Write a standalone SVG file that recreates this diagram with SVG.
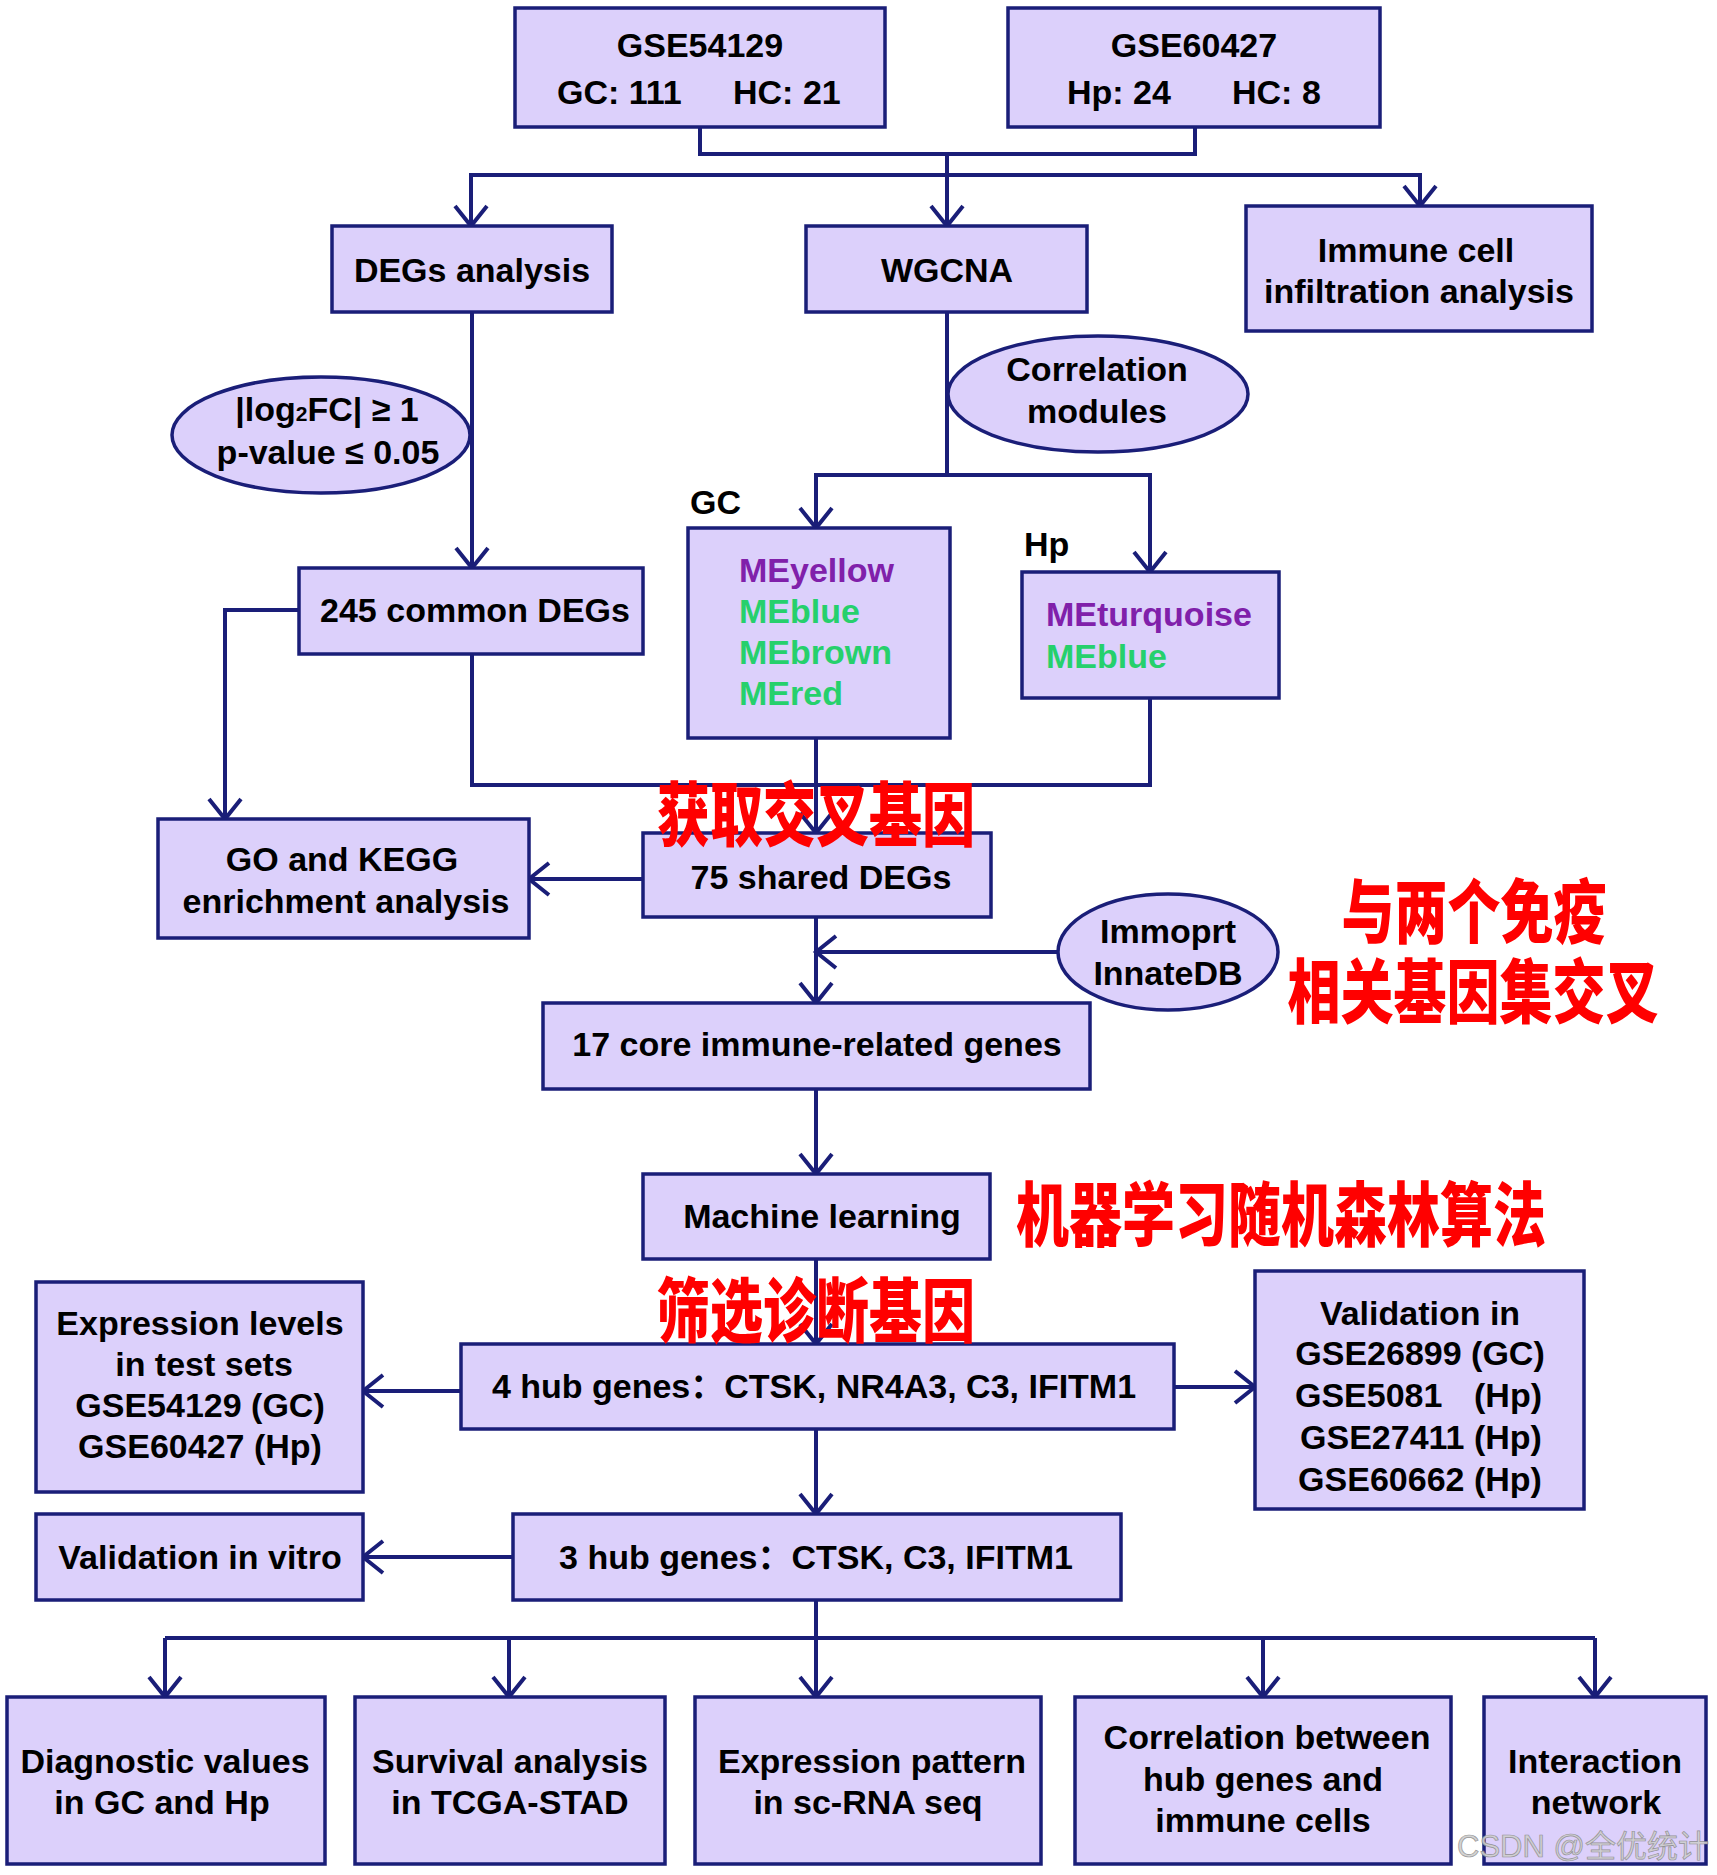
<svg xmlns="http://www.w3.org/2000/svg" width="1717" height="1875" viewBox="0 0 1717 1875">
  <defs>
    <style>
      .box { fill: #dcd0fb; stroke: #1a1e78; stroke-width: 3.5; }
      .oval { fill: #dcd0fb; stroke: #1a1e78; stroke-width: 3.5; }
      .wire { fill: none; stroke: #1a1e78; stroke-width: 4; stroke-linejoin: miter; }
      .arr { marker-end: url(#head); }
      .t { font-family: "Liberation Sans", Arial, sans-serif; font-weight: bold; font-size: 34px; text-anchor: middle; fill: #000; }
      .ts { text-anchor: start; }
      .cjk { font-family: "Noto Sans CJK SC", sans-serif; }
      .purple { fill: #8020aa; }
      .green { fill: #26d06c; }
      .note { font-family: "Noto Sans CJK SC", "Noto Sans CJK JP", sans-serif; font-weight: 900; font-size: 53px; text-anchor: middle; fill: #ff0000; }
      .mark { font-family: "Liberation Sans", "Noto Sans CJK SC", sans-serif; font-size: 31px; fill: #cfcfcf; stroke: #8c8c8c; stroke-width: 0.7; opacity: 0.9; }
    </style>
    <marker id="head" viewBox="-22 -18 26 36" markerUnits="userSpaceOnUse" markerWidth="26" markerHeight="36" refX="0" refY="0" orient="auto">
      <path d="M -20 -16 L 0 0 L -20 16" fill="none" stroke="#1a1e78" stroke-width="4" stroke-linejoin="miter"/>
    </marker>
  </defs>

  <rect width="1717" height="1875" fill="#ffffff"/>

  <!-- connectors -->
  <g id="connectors">
    <path class="wire" d="M700,127 V154 H1195 V127"/>
    <path class="wire arr" d="M947,154 V226"/>
    <path class="wire arr" d="M947,175 H471 V226"/>
    <path class="wire arr" d="M947,175 H1420 V206"/>
    <path class="wire arr" d="M472,312 V568"/>
    <path class="wire" d="M947,312 V475"/>
    <path class="wire arr" d="M947,475 H816 V528"/>
    <path class="wire arr" d="M947,475 H1150 V572"/>
    <path class="wire arr" d="M299,610 H225 V819"/>
    <path class="wire" d="M472,654 V785 H1150 V698"/>
    <path class="wire arr" d="M816,738 V833"/>
    <path class="wire arr" d="M643,879 H529"/>
    <path class="wire arr" d="M816,917 V1003"/>
    <path class="wire arr" d="M1058,952 H816"/>
    <path class="wire arr" d="M816,1089 V1174"/>
    <path class="wire arr" d="M816,1259 V1344"/>
    <path class="wire arr" d="M461,1391 H363"/>
    <path class="wire arr" d="M1174,1387 H1255"/>
    <path class="wire arr" d="M816,1429 V1514"/>
    <path class="wire arr" d="M513,1557 H363"/>
    <path class="wire" d="M816,1600 V1638"/>
    <path class="wire arr" d="M165,1638 V1697"/>
    <path class="wire arr" d="M509,1638 V1697"/>
    <path class="wire arr" d="M816,1638 V1697"/>
    <path class="wire arr" d="M1263,1638 V1697"/>
    <path class="wire arr" d="M1595,1638 V1697"/>
    <path class="wire" d="M165,1638 H1595"/>
  </g>

  <!-- datasets -->
  <g id="gse54129">
    <rect class="box" x="515" y="8" width="370" height="119"/>
    <text class="t" x="700" y="57">GSE54129</text>
    <text class="t ts" y="104"><tspan x="557">GC: 111</tspan><tspan x="733">HC: 21</tspan></text>
  </g>
  <g id="gse60427">
    <rect class="box" x="1008" y="8" width="372" height="119"/>
    <text class="t" x="1194" y="57">GSE60427</text>
    <text class="t ts" y="104"><tspan x="1067">Hp: 24</tspan><tspan x="1232">HC: 8</tspan></text>
  </g>

  <!-- analysis branches -->
  <g id="degs-analysis">
    <rect class="box" x="332" y="226" width="280" height="86"/>
    <text class="t" x="472" y="282">DEGs analysis</text>
  </g>
  <g id="wgcna">
    <rect class="box" x="806" y="226" width="281" height="86"/>
    <text class="t" x="947" y="282">WGCNA</text>
  </g>
  <g id="immune-infiltration">
    <rect class="box" x="1246" y="206" width="346" height="125"/>
    <text class="t" x="1416" y="262">Immune cell</text>
    <text class="t" x="1419" y="303">infiltration analysis</text>
  </g>

  <g id="deg-threshold">
    <ellipse class="oval" cx="321" cy="435" rx="149" ry="58"/>
    <text class="t" x="327" y="421">|log<tspan font-size="21px">2</tspan>FC| ≥ 1</text>
    <text class="t" x="328" y="464">p-value ≤ 0.05</text>
  </g>
  <g id="correlation-modules">
    <ellipse class="oval" cx="1098" cy="394" rx="150" ry="58"/>
    <text class="t" x="1097" y="381">Correlation</text>
    <text class="t" x="1097" y="423">modules</text>
  </g>

  <g id="common-degs">
    <rect class="box" x="299" y="568" width="344" height="86"/>
    <text class="t" x="475" y="622">245 common DEGs</text>
  </g>

  <g id="gc-modules">
    <text class="t ts" x="690" y="514">GC</text>
    <rect class="box" x="688" y="528" width="262" height="210"/>
    <text class="t ts purple" x="739" y="582">MEyellow</text>
    <text class="t ts green" x="739" y="623">MEblue</text>
    <text class="t ts green" x="739" y="664">MEbrown</text>
    <text class="t ts green" x="739" y="705">MEred</text>
  </g>
  <g id="hp-modules">
    <text class="t ts" x="1024" y="556">Hp</text>
    <rect class="box" x="1022" y="572" width="257" height="126"/>
    <text class="t ts purple" x="1046" y="626">MEturquoise</text>
    <text class="t ts green" x="1046" y="668">MEblue</text>
  </g>

  <g id="go-kegg">
    <rect class="box" x="158" y="819" width="371" height="119"/>
    <text class="t" x="342" y="871">GO and KEGG</text>
    <text class="t" x="346" y="913">enrichment analysis</text>
  </g>
  <g id="shared-degs">
    <rect class="box" x="643" y="833" width="348" height="84"/>
    <text class="t" x="821" y="889">75 shared DEGs</text>
  </g>
  <g id="immune-databases">
    <ellipse class="oval" cx="1168" cy="952" rx="110" ry="58"/>
    <text class="t" x="1168" y="943">Immoprt</text>
    <text class="t" x="1168" y="985">InnateDB</text>
  </g>
  <g id="core-genes">
    <rect class="box" x="543" y="1003" width="547" height="86"/>
    <text class="t" x="817" y="1056">17 core immune-related genes</text>
  </g>
  <g id="machine-learning">
    <rect class="box" x="643" y="1174" width="347" height="85"/>
    <text class="t" x="822" y="1228">Machine learning</text>
  </g>

  <g id="test-expression">
    <rect class="box" x="36" y="1282" width="327" height="210"/>
    <text class="t" x="200" y="1335">Expression levels</text>
    <text class="t" x="204" y="1376">in test sets</text>
    <text class="t" x="200" y="1417">GSE54129 (GC)</text>
    <text class="t" x="200" y="1458">GSE60427 (Hp)</text>
  </g>
  <g id="hub4">
    <rect class="box" x="461" y="1344" width="713" height="85"/>
    <text class="t" x="814" y="1398">4 hub genes<tspan class="cjk">：</tspan>CTSK, NR4A3, C3, IFITM1</text>
  </g>
  <g id="external-validation">
    <rect class="box" x="1255" y="1271" width="329" height="238"/>
    <text class="t" x="1420" y="1325">Validation in</text>
    <text class="t" x="1420" y="1365">GSE26899 (GC)</text>
    <text class="t ts" y="1407"><tspan x="1295">GSE5081</tspan><tspan x="1474">(Hp)</tspan></text>
    <text class="t" x="1421" y="1449">GSE27411 (Hp)</text>
    <text class="t" x="1420" y="1491">GSE60662 (Hp)</text>
  </g>
  <g id="vitro">
    <rect class="box" x="36" y="1514" width="327" height="86"/>
    <text class="t" x="200" y="1569">Validation in vitro</text>
  </g>
  <g id="hub3">
    <rect class="box" x="513" y="1514" width="608" height="86"/>
    <text class="t" x="816" y="1569">3 hub genes<tspan class="cjk">：</tspan>CTSK, C3, IFITM1</text>
  </g>

  <!-- downstream analyses -->
  <g id="diagnostic">
    <rect class="box" x="7" y="1697" width="318" height="167"/>
    <text class="t" x="165" y="1773">Diagnostic values</text>
    <text class="t" x="162" y="1814">in GC and Hp</text>
  </g>
  <g id="survival">
    <rect class="box" x="355" y="1697" width="310" height="167"/>
    <text class="t" x="510" y="1773">Survival analysis</text>
    <text class="t" x="510" y="1814">in TCGA-STAD</text>
  </g>
  <g id="sc-rna">
    <rect class="box" x="695" y="1697" width="346" height="167"/>
    <text class="t" x="872" y="1773">Expression pattern</text>
    <text class="t" x="868" y="1814">in sc-RNA seq</text>
  </g>
  <g id="immune-correlation">
    <rect class="box" x="1075" y="1697" width="376" height="167"/>
    <text class="t" x="1267" y="1749">Correlation between</text>
    <text class="t" x="1263" y="1791">hub genes and</text>
    <text class="t" x="1263" y="1832">immune cells</text>
  </g>
  <g id="interaction">
    <rect class="box" x="1484" y="1697" width="222" height="167"/>
    <text class="t" x="1595" y="1773">Interaction</text>
    <text class="t" x="1596" y="1814">network</text>
  </g>

  <!-- annotations in red -->
  <g id="annotations">
    <text class="note" transform="translate(816,841) scale(1,1.32)">获取交叉基因</text>
    <text class="note" transform="translate(1474,938) scale(1,1.32)">与两个免疫</text>
    <text class="note" transform="translate(1473,1018) scale(1,1.32)">相关基因集交叉</text>
    <text class="note" transform="translate(1281,1241) scale(1,1.32)">机器学习随机森林算法</text>
    <text class="note" transform="translate(816,1337) scale(1,1.32)">筛选诊断基因</text>
  </g>

  <text class="mark" x="1457" y="1857">CSDN @全优统计</text>
</svg>
